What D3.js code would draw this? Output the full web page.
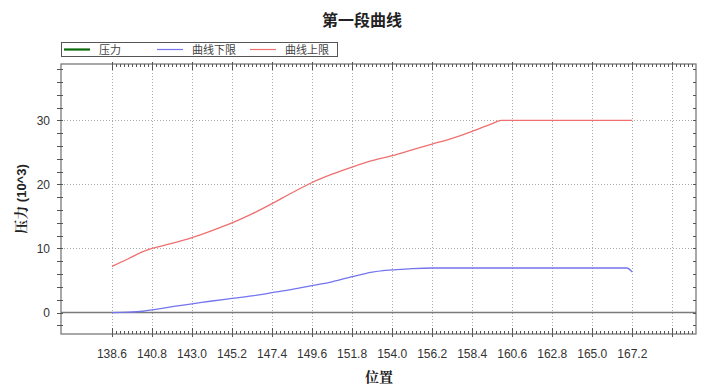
<!DOCTYPE html>
<meta charset="utf-8">
<head>
  <meta charset="utf-8">
  <script src="https://d3js.org/d3.v7.min.js"></script>
  <style>
    body { margin: 0; background: #fff; }
    text { font-family: "Liberation Sans", Arial, sans-serif; }
  </style>
</head>
<body>
  <svg width="713" height="389"></svg>
  <script>
    // series data
    var pressureX = [];
    var pressureY = [];
    var upperX = [138.6, 139.5, 140.3, 140.8, 141.9, 143.0, 144.1, 145.2, 146.3, 147.4, 148.5, 149.6, 150.7, 151.8, 152.9, 154.0, 155.1, 156.2, 157.3, 158.4, 159.5, 160.0, 162.8, 165.0, 167.2];
    var upperY = [7.2, 8.4, 9.5, 10.0, 10.8, 11.7, 12.8, 14.0, 15.4, 17.0, 18.7, 20.3, 21.6, 22.7, 23.7, 24.5, 25.4, 26.3, 27.2, 28.3, 29.5, 30.0, 30.0, 30.0, 30.0];
    var lowerX = [138.6, 139.5, 140.3, 141.0, 142.0, 143.0, 144.1, 145.2, 146.3, 147.4, 148.5, 149.6, 150.7, 151.8, 152.9, 153.5, 154.0, 155.1, 156.2, 158.4, 160.6, 162.8, 165.0, 166.9, 167.2];
    var lowerY = [0.0, 0.05, 0.2, 0.5, 0.95, 1.35, 1.8, 2.2, 2.6, 3.1, 3.6, 4.2, 4.8, 5.6, 6.3, 6.55, 6.65, 6.85, 6.95, 6.95, 6.95, 6.95, 6.95, 6.95, 6.3];
    var xTickLabels = ["138.6", "140.8", "143.0", "145.2", "147.4", "149.6", "151.8", "154.0", "156.2", "158.4", "160.6", "162.8", "165.0", "167.2"];
    var yTickLabels = [0, 10, 20, 30];
    var legendNames = ["压力", "曲线下限", "曲线上限"];
    var legendColors = ["#0a6a0a", "#7474ee", "#ee7070"];

    var svg = d3.select("svg");
    var pLeft = 61, pRight = 696, pTop = 64, pBottom = 334;
    var x = d3.scaleLinear().domain([135.8, 170.7]).range([pLeft, pRight]);
    var y = d3.scaleLinear().domain([-3.35, 38.8]).range([pBottom, pTop]);

    // title
    svg.append("text")
      .attr("x", 362).attr("y", 26)
      .attr("text-anchor", "middle")
      .style("font-family", "'Noto Sans CJK SC', sans-serif")
      .style("font-size", "16px")
      .style("font-weight", "bold")
      .style("fill", "#222")
      .text("第一段曲线");

    // legend
    var lg = svg.append("g");
    lg.append("rect").attr("x", 61.5).attr("y", 42.5).attr("width", 276).attr("height", 14)
      .attr("fill", "none").attr("stroke", "#555");
    var legX = [64, 157, 250];
    legendNames.forEach(function(n, i) {
      lg.append("line").attr("x1", legX[i]).attr("x2", legX[i] + 26).attr("y1", 49.5).attr("y2", 49.5)
        .attr("stroke", legendColors[i]).attr("stroke-width", i == 0 ? 2.2 : 1.2);
      lg.append("text").attr("x", legX[i] + 35).attr("y", 54)
        .style("font-family", "'Noto Sans CJK SC', sans-serif")
        .style("font-size", "11px").style("fill", "#444")
        .text(n);
    });

    // grid
    var xGrid = d3.range(14).map(function(i) { return 138.6 + i * 2.2; }).concat([169.4]);
    svg.append("g").selectAll("line").data(xGrid).enter().append("line")
      .attr("x1", function(d) { return Math.round(x(d)) + 0.5; })
      .attr("x2", function(d) { return Math.round(x(d)) + 0.5; })
      .attr("y1", pTop).attr("y2", pBottom)
      .attr("stroke", "#aaa").attr("stroke-dasharray", "1,2");
    svg.append("g").selectAll("line").data([10, 20, 30]).enter().append("line")
      .attr("x1", pLeft).attr("x2", pRight)
      .attr("y1", function(d) { return Math.round(y(d)) + 0.5; })
      .attr("y2", function(d) { return Math.round(y(d)) + 0.5; })
      .attr("stroke", "#aaa").attr("stroke-dasharray", "1,2");

    // zero line
    svg.append("line").attr("x1", pLeft).attr("x2", pRight).attr("y1", y(0)).attr("y2", y(0))
      .attr("stroke", "#7a7a7a").attr("stroke-width", 1.5);

    // frame
    svg.append("rect").attr("x", pLeft).attr("y", pTop).attr("width", pRight - pLeft).attr("height", pBottom - pTop)
      .attr("fill", "none").attr("stroke", "#7a7a7a").attr("stroke-width", 1.3);

    // x ticks on top and bottom, minor every 0.22
    var xMinor = d3.range(0, 146).map(function(i) { return 138.6 + i * 0.22; }).filter(function(d) { return d < 170.6; });
    var xt = svg.append("g").attr("stroke", "#555");
    xMinor.forEach(function(d, i) {
      var px = Math.round(x(d)) + 0.5;
      var major = i % 10 == 0;
      xt.append("line").attr("x1", px).attr("x2", px).attr("y1", pBottom + (major ? 3 : 0)).attr("y2", pBottom - (major ? 6 : 3));
      xt.append("line").attr("x1", px).attr("x2", px).attr("y1", pTop - (major ? 2 : 0)).attr("y2", pTop + (major ? 6 : 3));
    });

    // y ticks left (crossing) and right (inside), every 2
    var yMinor = d3.range(-2, 39, 2);
    var yt = svg.append("g").attr("stroke", "#555");
    yMinor.forEach(function(d) {
      var py = Math.round(y(d)) + 0.5;
      yt.append("line").attr("x1", pLeft - 4).attr("x2", pLeft + 2).attr("y1", py).attr("y2", py);
      yt.append("line").attr("x1", pRight - 3).attr("x2", pRight).attr("y1", py).attr("y2", py);
    });

    // tick labels
    svg.append("g").selectAll("text").data(xTickLabels).enter().append("text")
      .attr("x", function(d) { return x(+d); })
      .attr("y", 358)
      .attr("text-anchor", "middle")
      .style("font-size", "12px").style("fill", "#333")
      .text(function(d) { return d; });
    svg.append("g").selectAll("text").data(yTickLabels).enter().append("text")
      .attr("x", 50)
      .attr("y", function(d) { return y(d) + 4.5; })
      .attr("text-anchor", "end")
      .style("font-size", "12px").style("fill", "#333")
      .text(function(d) { return d; });

    // axis titles
    svg.append("text")
      .attr("transform", "translate(26,199) rotate(-90)")
      .attr("text-anchor", "middle")
      .style("font-size", "13px").style("font-weight", "bold").style("fill", "#222")
      .html("<tspan style=\"font-family:'Noto Serif CJK SC','Noto Sans CJK SC',serif;font-size:14px\">压力</tspan> (10^3)");
    svg.append("text")
      .attr("x", 379).attr("y", 382)
      .attr("text-anchor", "middle")
      .style("font-family", "'Noto Serif CJK SC', 'Noto Sans CJK SC', serif")
      .style("font-size", "14px").style("font-weight", "bold").style("fill", "#222")
      .text("位置");

    // curves
    var line = d3.line().x(function(d) { return x(d[0]); }).y(function(d) { return y(d[1]); }).curve(d3.curveMonotoneX);
    var series = [
      { xs: pressureX, ys: pressureY, color: legendColors[0] },
      { xs: lowerX, ys: lowerY, color: legendColors[1] },
      { xs: upperX, ys: upperY, color: legendColors[2] }
    ];
    series.forEach(function(s) {
      if (!s.xs.length) return;
      svg.append("path")
        .datum(d3.zip(s.xs, s.ys))
        .attr("d", line)
        .attr("fill", "none")
        .attr("stroke", s.color)
        .attr("stroke-width", 1.3);
    });
  </script>
</body>
</html>
